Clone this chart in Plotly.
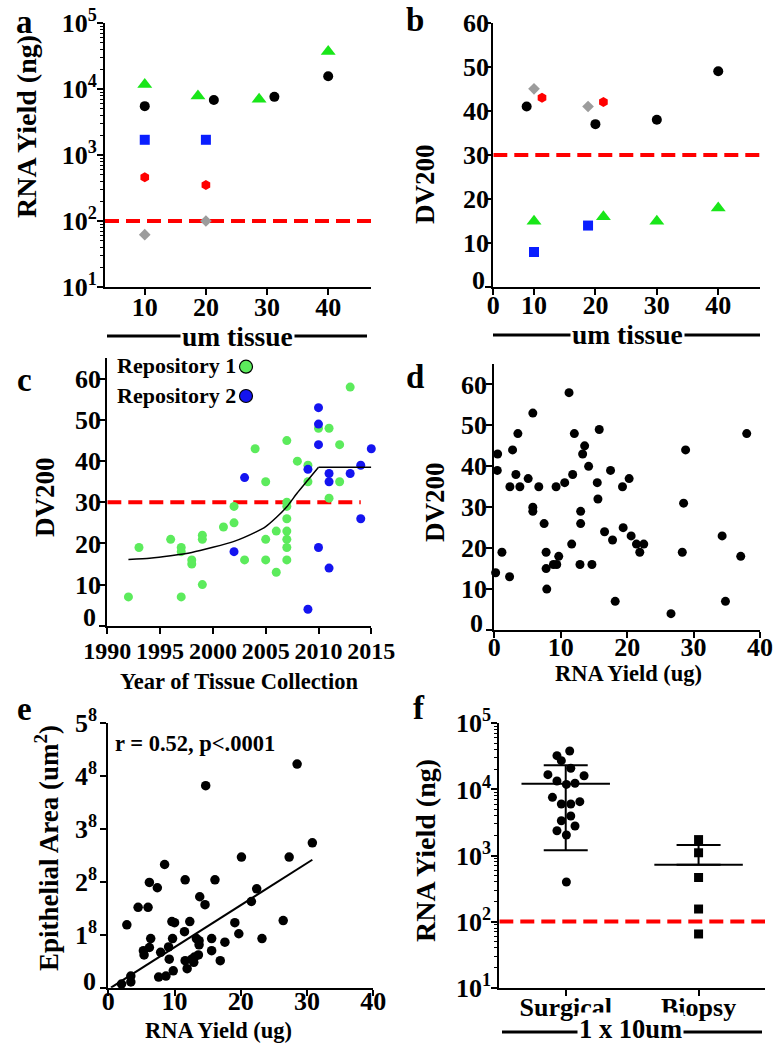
import plotly.graph_objects as go

W, H = 774, 1043
SERIF = "Liberation Serif"

# ---------------- data ----------------
# Panel a: RNA yield (ng) by section thickness (um)
a_green_x = [10, 18.7, 28.7, 40]
a_green_y = [11700, 7800, 7000, 37000]
a_black_x = [10, 21.3, 31.2, 40]
a_black_y = [5500, 6800, 7600, 15600]
a_blue_x = [10, 20]
a_blue_y = [1700, 1700]
a_red_x = [10, 20]
a_red_y = [460, 350]
a_grey_x = [10, 20]
a_grey_y = [62, 100]

# Panel b: DV200 by section thickness (um)
b_black_x = [8.8, 20, 30, 40]
b_black_y = [41, 37, 38, 49]
b_grey_x = [10, 18.8]
b_grey_y = [45, 41]
b_red_x = [11.3, 21.3]
b_red_y = [43, 42]
b_green_x = [10, 21.3, 30, 40]
b_green_y = [15, 16, 15, 18]
b_blue_x = [10, 18.8]
b_blue_y = [8, 14]

yield_threshold = 100
dv200_threshold = 30

# Panel c: DV200 vs year of tissue collection
c_rep1_year = [1992, 1993, 1996, 1997, 1997, 1997, 1998, 1998, 1999, 1999, 1999,
               2001, 2002, 2002, 2003, 2004, 2005, 2005, 2005, 2006, 2006,
               2007, 2007, 2007, 2007, 2007, 2007, 2007, 2007, 2008, 2009, 2009,
               2010, 2011, 2011, 2012, 2012, 2013]
c_rep1_dv200 = [7, 19, 21, 19, 18, 7, 16, 15, 22, 21, 10,
                24, 29, 25, 16, 43, 35, 21, 16, 23, 13,
                45, 30, 29, 26, 23, 21, 19, 16, 40, 39, 35,
                48, 48, 31, 44, 35, 58]
c_rep2_year = [2002, 2003, 2009, 2009, 2010, 2010, 2010, 2010, 2011, 2011, 2011,
               2013, 2014, 2014, 2015]
c_rep2_dv200 = [18, 36, 38, 4, 53, 49, 44, 19, 37, 35, 14,
                37, 39, 26, 43]
c_fit_year = [1992, 1994, 1996, 1998, 2000, 2002, 2004, 2005, 2006, 2007, 2008, 2009, 2010]
c_fit_dv200 = [16.1, 16.4, 17.0, 17.8, 19.05, 20.5, 22.7, 24.1, 26.3, 28.9, 32.3, 35.4, 38.5]
c_plateau_year = [2010, 2015]
c_plateau_dv200 = [38.5, 38.5]

# Panel d: DV200 vs RNA yield (ug)
d_yield = [0.2, 0.5, 0.45, 1.15, 2.3, 2.35, 2.75, 3.25, 3.55, 3.85, 5.1, 5.8, 5.8, 5.8,
           6.7, 7.5, 7.8, 7.8, 7.9, 8.9, 9.4, 9.3, 9.7, 10.6, 11.25, 11.65, 11.8, 12.05,
           12.9, 13.0, 13.0, 13.3, 13.6, 14.2, 14.7, 15.5, 15.6, 15.8, 16.6, 17.5, 17.8,
           18.2, 19.3, 19.4, 20.3, 20.6, 21.4, 21.9, 22.5, 26.6, 28.3, 28.5, 28.8, 34.3,
           34.8, 37.1, 38.0]
d_dv200 = [14, 43, 39, 19, 13, 35, 44, 38, 48, 35, 37, 53, 30, 29,
           35, 26, 19, 15, 10, 16, 16, 35, 18, 36, 58, 21, 38, 48,
           16, 29, 26, 43, 45, 40, 16, 36, 32, 49, 24, 39, 22,
           7, 35, 25, 37, 23, 21, 19, 21, 4, 19, 31, 44, 23,
           7, 18, 48]

# Panel e: epithelial area vs RNA yield (ug)
e_yield = [2.0, 3.4, 3.4, 2.8, 4.5, 5.3, 5.4, 6.0, 6.2, 6.2, 6.4, 7.4, 7.6, 7.9, 8.5,
           8.7, 9.1, 9.2, 9.7, 9.6, 10.0, 9.8, 11.5, 11.6, 11.6, 11.9, 12.3, 12.6, 12.9,
           13.0, 13.3, 13.6, 13.7, 13.7, 13.8, 14.6, 14.7, 15.6, 15.6, 16.1, 16.9, 17.6,
           19.1, 19.7, 20.1, 21.6, 22.4, 23.2, 26.4, 27.3, 28.5, 30.8]
e_area = [0.07, 0.22, 0.11, 1.19, 1.52, 0.70, 0.62, 1.52, 1.99, 0.76, 0.93, 1.89, 0.20,
          0.67, 2.33, 0.22, 0.77, 0.54, 0.93, 1.25, 1.23, 0.32, 1.06, 0.51, 2.04, 0.36,
          1.25, 0.54, 0.48, 0.58, 0.93, 0.62, 0.89, 0.81, 1.72, 1.57, 3.82, 0.93, 0.70,
          2.04, 0.51, 0.86, 1.23, 1.02, 2.47, 1.63, 1.87, 0.93, 1.27, 2.47, 4.23, 2.74]
e_fit_x = [0.4, 30.8]
e_fit_y = [0.0, 2.42]
e_tick_text = ["", "1<sup>8</sup>", "2<sup>8</sup>", "3<sup>8</sup>", "4<sup>8</sup>", "5<sup>8</sup>"]

# Panel f: RNA yield (ng), 1 x 10um sections
f_categories = ["Surgical", "Biopsy"]
f_surgical = [38100, 32400, 27200, 20900, 16700, 16100, 13400, 11900, 12400, 7590,
              6010, 6010, 6520, 3960, 3360, 2790, 2370, 2040, 397]
f_surgical_jitter = [0.03, -0.066, -0.033, 0.038, -0.134, 0.138, -0.066, 0.005, 0.07, -0.10,
                     -0.033, 0.038, 0.106, 0.038, -0.033, 0.07, -0.066, 0.005, 0.005]
f_biopsy = [1740, 1100, 465, 155, 65]
f_mean = [12200, 726]
f_sd_upper = [11000, 716]
f_sd_lower = [11000, 0]

dv_ticks = [0, 10, 20, 30, 40, 50, 60]
dv_text = ["", "10", "20", "30", "40", "50", "60"]   # the "0" label is drawn raised, as in the original

# ---------------- helpers ----------------
def px(x):
    return x / W

def py(y):
    return 1 - y / H

GREEN = "#19E619"
BLUE = "#0A1EFF"
RED = "#FF0000"
GREY = "#9C9C9C"
C_GREEN = "#5CEB5C"
C_BLUE = "#1414F0"
DASH = "14px,7px"
TICKFONT = dict(family=SERIF, size=26, color="black", weight="bold")

def axis(domain, anchor, **kw):
    d = dict(domain=domain, anchor=anchor, showline=True, linecolor="black", linewidth=2,
             ticks="outside", ticklen=6, tickwidth=2, tickcolor="black",
             showgrid=False, zeroline=False, fixedrange=True, automargin=False,
             tickfont=TICKFONT)
    d.update(kw)
    return d

def log_minor():
    vals = []
    for k in range(1, 5):
        for m in range(2, 10):
            vals.append(m * 10 ** k)
    return dict(tickmode="array", tickvals=vals, ticks="outside", ticklen=3,
                tickwidth=1, tickcolor="black", showgrid=False)

log_ticks = [10, 100, 1000, 10000, 100000]
log_text = ["10<sup>1</sup>", "10<sup>2</sup>", "10<sup>3</sup>", "10<sup>4</sup>", "10<sup>5</sup>"]

fig = go.Figure()

def sc(x, y, n, symbol, color, size, **kw):
    fig.add_trace(go.Scatter(x=x, y=y, mode="markers", xaxis=f"x{n}", yaxis=f"y{n}",
                             marker=dict(symbol=symbol, color=color, size=size, line=dict(width=0)),
                             cliponaxis=False, showlegend=False, hoverinfo="x+y", **kw))

def hline(xr, val, n, width=4):
    fig.add_trace(go.Scatter(x=xr, y=[val, val], mode="lines", xaxis=f"x{n}", yaxis=f"y{n}",
                             line=dict(color=RED, width=width, dash=DASH),
                             cliponaxis=False, showlegend=False, hoverinfo="skip"))

# ---- a ----
a_xr = [3.5, 47]
hline(a_xr, yield_threshold, "")
sc(a_green_x, a_green_y, "", "triangle-up", GREEN, 13)
sc(a_black_x, a_black_y, "", "circle", "black", 10)
sc(a_blue_x, a_blue_y, "", "square", BLUE, 10)
sc(a_red_x, a_red_y, "", "hexagon", RED, 10)
sc(a_grey_x, a_grey_y, "", "diamond", GREY, 9)

# ---- b ----
b_xr = [3.37, 46.8]
hline(b_xr, dv200_threshold, 2)
sc(b_black_x, b_black_y, 2, "circle", "black", 10)
sc(b_grey_x, b_grey_y, 2, "diamond", GREY, 9)
sc(b_red_x, b_red_y, 2, "hexagon", RED, 10)
sc(b_green_x, b_green_y, 2, "triangle-up", GREEN, 13)
sc(b_blue_x, b_blue_y, 2, "square", BLUE, 10)

# ---- c ----
c_xr = [1990, 2015]
hline([1990, 2014], dv200_threshold, 3)
sc(c_rep1_year, c_rep1_dv200, 3, "circle", C_GREEN, 9)
sc(c_rep2_year, c_rep2_dv200, 3, "circle", C_BLUE, 9)
fig.add_trace(go.Scatter(x=c_fit_year, y=c_fit_dv200, mode="lines", xaxis="x3", yaxis="y3",
                         line=dict(color="black", width=1.5, shape="spline", smoothing=0.5),
                         showlegend=False, hoverinfo="skip"))
fig.add_trace(go.Scatter(x=c_plateau_year, y=c_plateau_dv200, mode="lines", xaxis="x3", yaxis="y3",
                         line=dict(color="black", width=1.5), cliponaxis=False,
                         showlegend=False, hoverinfo="skip"))

# ---- d ----
sc(d_yield, d_dv200, 4, "circle", "black", 9)

# ---- e ----
sc(e_yield, e_area, 5, "circle", "black", 9.5)
fig.add_trace(go.Scatter(x=e_fit_x, y=e_fit_y, mode="lines", xaxis="x5", yaxis="y5",
                         line=dict(color="black", width=2), showlegend=False, hoverinfo="skip"))

# ---- f ----
f_xr = [-0.5, 1.5]
hline(f_xr, yield_threshold, 6)
for i, m in enumerate(f_mean):
    fig.add_trace(go.Scatter(x=[i - 0.333, i + 0.333], y=[m, m], mode="lines", xaxis="x6", yaxis="y6",
                             line=dict(color="black", width=2), showlegend=False, hoverinfo="skip"))
fig.add_trace(go.Scatter(x=[0, 1], y=f_mean, mode="markers", xaxis="x6", yaxis="y6",
                         marker=dict(size=1, color="rgba(0,0,0,0)"),
                         error_y=dict(type="data", symmetric=False, array=f_sd_upper,
                                      arrayminus=f_sd_lower, width=22, thickness=2, color="black"),
                         showlegend=False, hoverinfo="skip"))
sc([0 + j for j in f_surgical_jitter], f_surgical, 6, "circle", "black", 9)
sc([1] * len(f_biopsy), f_biopsy, 6, "square", "black", 9)

# ---------------- axes ----------------
dom = {
    "a": ([px(105), px(371)], [py(287), py(23)]),
    "b": ([px(493.3), px(760)], [py(287.3), py(22.7)]),
    "c": ([px(107.3), px(371.3)], [py(625.7), py(358.3)]),
    "d": ([px(494.3), px(760)], [py(630), py(364)]),
    "e": ([px(108.3), px(373.3)], [py(987.7), py(723.3)]),
    "f": ([px(499.3), px(765)], [py(987.7), py(723.3)]),
}

fig.update_layout(
    template="none",
    width=W, height=H, autosize=False, margin=dict(l=0, r=0, t=0, b=0, pad=0),
    paper_bgcolor="white", plot_bgcolor="white", showlegend=False,
    xaxis=axis(dom["a"][0], "y", range=a_xr, tickvals=[10, 20, 30, 40], ticklabelstandoff=-10),
    yaxis=axis(dom["a"][1], "x", type="log", range=[1, 5], tickvals=log_ticks, ticktext=log_text,
               minor=log_minor(), ticklabelstandoff=-5),
    xaxis2=axis(dom["b"][0], "y2", range=b_xr, tickvals=[b_xr[0], 10, 20, 30, 40],
                ticktext=["0", "10", "20", "30", "40"], ticklabelstandoff=-13),
    yaxis2=axis(dom["b"][1], "x2", range=[0, 60], tickvals=dv_ticks, ticktext=dv_text,
                ticklabelstandoff=-9),
    xaxis3=axis(dom["c"][0], "y3", range=c_xr, tickvals=[1990, 1995, 2000, 2005, 2010, 2015],
                tickfont=dict(family=SERIF, size=24, color="black", weight="bold"),
                ticklabelstandoff=-4),
    yaxis3=axis(dom["c"][1], "x3", range=[0, 65], tickvals=dv_ticks, ticktext=dv_text,
                ticklabelstandoff=-7),
    xaxis4=axis(dom["d"][0], "y4", range=[0, 40], tickvals=[0, 10, 20, 30, 40], ticklabelstandoff=-13),
    yaxis4=axis(dom["d"][1], "x4", range=[0, 65], tickvals=dv_ticks, ticktext=dv_text,
                ticklabelstandoff=-6),
    xaxis5=axis(dom["e"][0], "y5", range=[0, 40], tickvals=[0, 10, 20, 30, 40], ticklabelstandoff=-17),
    yaxis5=axis(dom["e"][1], "x5", range=[0, 5], tickvals=[0, 1, 2, 3, 4, 5], ticktext=e_tick_text,
                ticklabelstandoff=-2),
    xaxis6=axis(dom["f"][0], "y6", range=f_xr, tickvals=[0, 1], ticktext=f_categories,
                ticklabelstandoff=-11),
    yaxis6=axis(dom["f"][1], "x6", type="log", range=[1, 5], tickvals=log_ticks, ticktext=log_text,
                minor=log_minor(), ticklabelstandoff=-5),
)

# ---------------- text ----------------
ann = []

def text(x, y, s, size, angle=0, xanchor="center", bg=None):
    d = dict(x=px(x), y=py(y), xref="paper", yref="paper", text=s, showarrow=False,
             textangle=angle, xanchor=xanchor, yanchor="middle",
             font=dict(family=SERIF, size=size, color="black", weight="bold"))
    if bg:
        d.update(bgcolor=bg, borderpad=1)
    ann.append(d)

# raised "0" labels at the bottom of the linear y axes
for (x, y) in [(487, 280), (98, 617), (485, 623), (98, 981)]:
    text(x, y, "0", 26, xanchor="right")

# panel letters
for L, (x, y) in {"a": (24, 22), "b": (415, 20), "c": (24, 380), "d": (415, 377),
                  "e": (24, 709), "f": (419, 708)}.items():
    text(x, y, L, 33)

# y titles
text(26, 127, "RNA Yield (ng)", 28, -90)
text(425, 184, "DV200", 27, -90)
text(45, 497, "DV200", 27, -90)
text(435, 502, "DV200", 27, -90)
text(47, 848, "Epithelial Area (um<sup>2</sup>)", 27, -90)
text(425, 851, "RNA Yield (ng)", 28, -90)

# x titles
text(239, 681, "Year of Tissue Collection", 22.5)
text(628, 673, "RNA Yield (ug)", 22.5)
text(218, 1030, "RNA Yield (ug)", 22.5)

shapes = []
def uline(x0, x1, y):
    shapes.append(dict(type="line", xref="paper", yref="paper", x0=px(x0), x1=px(x1),
                       y0=py(y), y1=py(y), line=dict(color="black", width=3), layer="below"))

uline(107, 367, 336)
uline(493, 760, 335)
uline(502, 762, 1032)
text(238, 336, "um tissue", 27.5, bg="white")
text(627, 335, "um tissue", 27.5, bg="white")
text(630, 1029, "1 x 10um", 26.5, bg="white")

# stats
text(113, 743, "r = 0.52, p<.0001", 22.5, xanchor="left")

# legend panel c
text(115, 366, "Repository 1", 22, xanchor="left")
text(115, 396, "Repository 2", 22, xanchor="left")
for yy, col in [(366.7, C_GREEN), (396, C_BLUE)]:
    shapes.append(dict(type="circle", xref="paper", yref="paper", xsizemode="pixel", ysizemode="pixel",
                       xanchor=px(246), yanchor=py(yy), x0=-6.5, x1=6.5, y0=-6.5, y1=6.5,
                       fillcolor=col, line=dict(color="black", width=1.2)))

fig.update_layout(annotations=ann, shapes=shapes)
fig.write_html("out.html", config={"displayModeBar": False},
               post_script="document.body.style.margin='0';document.body.style.padding='0';")
